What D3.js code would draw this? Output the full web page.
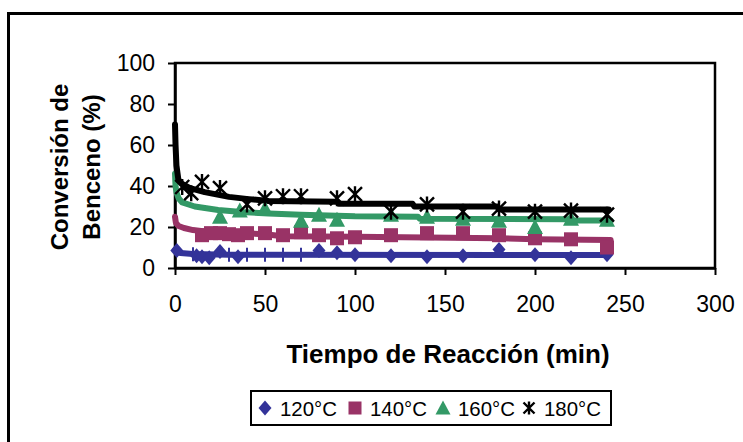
<!DOCTYPE html>
<html>
<head>
<meta charset="utf-8">
<script src="https://cdn.jsdelivr.net/npm/d3@7"></script>
<style>
  html, body { margin: 0; padding: 0; background: #fff; }
  svg { display: block; font-family: Arial, "Liberation Sans", sans-serif; }
</style>
</head>
<body>
<div id="chart"></div>
<script>
// fitted curves [t (min), conversion (%)]
const curve120 = [[0, 8.8], [1, 8], [3, 7.3], [10, 6.8], [30, 6.5], [240, 6.3]];
const curve140 = [[0, 25], [0.5, 22], [2, 20.5], [5, 19.5], [10, 18.5], [20, 17.5], [50, 16.5], [60, 15.5], [100, 15.2], [180, 14.5], [200, 14], [242, 13.7]];
const curve160 = [[0, 46], [0.3, 40], [0.8, 37], [2, 34], [4, 32], [11, 30], [24, 28.3], [37, 27.3], [52, 26.6], [70, 26], [100, 25.2], [135, 25], [136, 24], [220, 23.8], [221, 23.2], [242, 23.2]];
const curve180 = [[0, 70], [0.3, 60], [0.8, 50], [1.9, 43], [4, 41], [8.3, 39], [16.5, 37], [30, 34.7], [41, 33.6], [52, 32.7], [90, 32.3], [91, 31.3], [132, 31.3], [133, 30], [179, 30], [180, 28.5], [241, 28.5]];

// experimental points
const points120 = [[1, 8.5], [12, 6], [15, 5.5], [19, 5], [25, 8], [35, 5.5], [80, 8.5], [90, 7.5], [100, 6.5], [120, 6], [140, 5.5], [160, 6], [180, 9], [200, 6.5], [220, 5], [240, 6.5]];
const ticks120 = [[10, 6.7], [30, 6.5], [40, 6.5], [50, 6.5], [60, 6.5], [70, 6.5]];
const points140 = [[15, 16], [20, 17], [25, 17], [30, 16.5], [35, 16], [40, 17], [50, 17], [60, 16], [70, 17.5], [80, 16], [90, 14.5], [100, 15], [120, 16], [140, 17], [160, 17], [180, 16], [200, 14.5], [220, 14], [240, 10]];
const points160 = [[25, 25], [36, 28], [50, 29], [70, 23], [80, 26], [90, 23.5], [120, 26], [140, 25], [160, 24], [180, 23], [200, 20], [220, 24], [240, 23.5]];
const points180 = [[4, 39.5], [9, 36.5], [15, 42], [25, 39], [40, 31], [50, 34], [60, 35], [70, 35], [90, 34], [100, 36], [120, 27.5], [140, 31], [160, 27.5], [180, 29], [200, 27.5], [220, 28], [240, 26]];

const xTicks = [0, 50, 100, 150, 200, 250, 300];
const yTicks = [0, 20, 40, 60, 80, 100];

const seriesNames = ['120°C', '140°C', '160°C', '180°C'];
const seriesColors = ['#333399', '#993366', '#339966', '#000000'];
const seriesShapes = ['diamond', 'square', 'triangle', 'star'];

const width = 743, height = 442;
const plot = { left: 175, right: 715, top: 63, bottom: 268 };

const svg = d3.select('#chart').append('svg')
  .attr('width', width).attr('height', height);

// outer chart border (runs off the right/bottom edges)
svg.append('rect')
  .attr('x', 8.5).attr('y', 13.5).attr('width', 800).attr('height', 500)
  .attr('fill', 'none').attr('stroke', '#000').attr('stroke-width', 3);

const x = d3.scaleLinear().domain([0, 300]).range([plot.left, plot.right]);
const y = d3.scaleLinear().domain([0, 100]).range([plot.bottom, plot.top]);

// plot area frame
svg.append('rect')
  .attr('x', plot.left).attr('y', plot.top)
  .attr('width', plot.right - plot.left).attr('height', plot.bottom - plot.top)
  .attr('fill', 'none').attr('stroke', '#000').attr('stroke-width', 2.5);

const xAxis = svg.append('g')
  .attr('transform', `translate(0,${plot.bottom})`)
  .call(d3.axisBottom(x).tickValues(xTicks).tickSize(7).tickPadding(21).tickSizeOuter(0));
const yAxis = svg.append('g')
  .attr('transform', `translate(${plot.left},0)`)
  .call(d3.axisLeft(y).tickValues(yTicks).tickSize(7).tickPadding(13).tickSizeOuter(0));

for (const ax of [xAxis, yAxis]) {
  ax.select('.domain').attr('stroke', '#000').attr('stroke-width', 2.5);
  ax.selectAll('.tick line').attr('stroke', '#000').attr('stroke-width', 2);
  ax.selectAll('.tick text').attr('fill', '#000').attr('font-size', 23)
    .attr('font-family', 'Arial, "Liberation Sans", sans-serif');
}

// axis titles
svg.append('text')
  .attr('x', 448).attr('y', 363)
  .attr('text-anchor', 'middle')
  .attr('font-size', 26).attr('font-weight', 'bold')
  .text('Tiempo de Reacción (min)');

const yTitle = svg.append('text')
  .attr('transform', 'translate(0,167) rotate(-90)')
  .attr('text-anchor', 'middle')
  .attr('font-size', 24).attr('font-weight', 'bold');
yTitle.append('tspan').attr('x', 0).attr('y', 68).text('Conversión de');
yTitle.append('tspan').attr('x', 0).attr('y', 100).text('Benceno (%)');

// curves
const line = d3.line().x((d) => x(d[0])).y((d) => y(d[1]));
const curves = [curve120, curve140, curve160, curve180];
const points = [points120, points140, points160, points180];

function marker(g, shape, color, size) {
  const s = size / 2;
  if (shape === 'diamond') {
    g.append('path').attr('d', `M0,${-s - 1}L${s},0L0,${s + 1}L${-s},0Z`).attr('fill', color);
  } else if (shape === 'square') {
    g.append('rect').attr('x', -s).attr('y', -s).attr('width', size).attr('height', size).attr('fill', color);
  } else if (shape === 'triangle') {
    g.append('path').attr('d', `M0,${-s - 1}L${s + 1},${s}L${-s - 1},${s}Z`).attr('fill', color);
  } else {
    g.append('path')
      .attr('d', `M${-s},${-s}L${s},${s}M${s},${-s}L${-s},${s}M0,${-s - 1}L0,${s + 1}`)
      .attr('stroke', color).attr('stroke-width', 2.4).attr('fill', 'none');
  }
}

const markerSizes = [13, 14, 14, 14];

curves.forEach((c, i) => {
  svg.append('path')
    .datum(c)
    .attr('d', line)
    .attr('fill', 'none')
    .attr('stroke', seriesColors[i])
    .attr('stroke-width', 6)
    .attr('stroke-linejoin', 'round')
    .attr('stroke-linecap', 'round');
});

// small vertical bars on the 120°C curve
svg.append('g').selectAll('line')
  .data(ticks120)
  .join('line')
  .attr('x1', (d) => x(d[0])).attr('x2', (d) => x(d[0]))
  .attr('y1', (d) => y(d[1]) - 7).attr('y2', (d) => y(d[1]) + 7)
  .attr('stroke', seriesColors[0]).attr('stroke-width', 2);

points.forEach((pts, i) => {
  svg.append('g').selectAll('g')
    .data(pts)
    .join('g')
    .attr('transform', (d) => `translate(${x(d[0])},${y(d[1])})`)
    .each(function () { marker(d3.select(this), seriesShapes[i], seriesColors[i], markerSizes[i]); });
});

// legend
const legend = svg.append('g');
legend.append('rect')
  .attr('x', 251).attr('y', 391).attr('width', 360).attr('height', 34)
  .attr('fill', '#fff').attr('stroke', '#000').attr('stroke-width', 2);

const legendMarkX = [265, 355, 443, 529];
seriesNames.forEach((name, i) => {
  const g = legend.append('g').attr('transform', `translate(${legendMarkX[i]},408)`);
  marker(g, seriesShapes[i], seriesColors[i], i === 3 ? 11 : 13);
  legend.append('text')
    .attr('x', legendMarkX[i] + 15).attr('y', 416)
    .attr('font-size', 21)
    .attr('textLength', 57)
    .attr('lengthAdjust', 'spacingAndGlyphs')
    .text(name);
});
</script>
</body>
</html>
